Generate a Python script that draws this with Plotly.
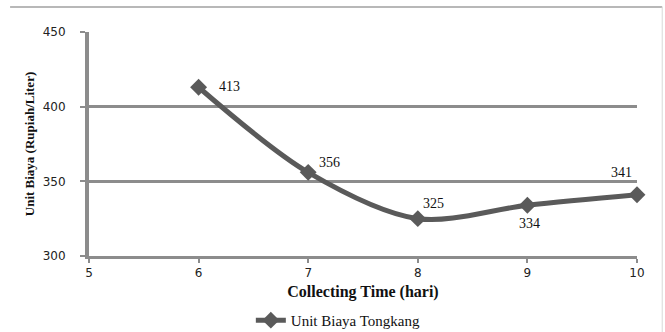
import plotly.graph_objects as go

# Collecting time (days) vs. unit cost per litre for the barge
collecting_time = [6, 7, 8, 9, 10]
unit_cost = [413, 356, 325, 334, 341]
x_ticks = [5, 6, 7, 8, 9, 10]
y_ticks = [300, 350, 400, 450]

# pixel offsets of each value label from its point
label_dx = [31, 21, 16, 2, -16]
label_dy = [1, 10, 15, -18, 22]

line_color = "#5a5a5a"
axis_color = "#8c8c8c"
serif = "Liberation Serif, Times New Roman, serif"
sans = "DejaVu Sans, Arial, sans-serif"

fig = go.Figure()
fig.add_trace(go.Scatter(
    x=collecting_time,
    y=unit_cost,
    mode="lines+markers",
    name="Unit Biaya Tongkang",
    line=dict(color=line_color, width=5, shape="spline", smoothing=0.9),
    marker=dict(symbol="diamond", size=13, color=line_color),
    cliponaxis=False,
))

for x, y, dx, dy in zip(collecting_time, unit_cost, label_dx, label_dy):
    fig.add_annotation(
        x=x, y=y, text=str(y), showarrow=False,
        xshift=dx, yshift=dy,
        font=dict(family=serif, size=14, color="#111111"),
    )

fig.update_layout(
    width=665,
    height=332,
    margin=dict(l=89, r=28, t=32, b=76),
    paper_bgcolor="white",
    plot_bgcolor="white",
    showlegend=True,
    legend=dict(
        orientation="h",
        xref="paper", x=0.455, xanchor="center",
        yref="container", y=0.035, yanchor="middle",
        font=dict(family=serif, size=15, color="#111111"),
        itemwidth=30,
        bgcolor="rgba(0,0,0,0)",
    ),
    xaxis=dict(
        range=[5, 10],
        tickvals=x_ticks,
        ticktext=[str(t) for t in x_ticks],
        showgrid=False,
        zeroline=False,
        showline=True,
        linecolor=axis_color,
        linewidth=3,
        ticks="outside",
        ticklen=4,
        tickwidth=2,
        tickcolor=axis_color,
        tickfont=dict(family=sans, size=12, color="#222222"),
        automargin=False,
        title=dict(text="<b>Collecting Time (hari)</b>",
                   font=dict(family=serif, size=16, color="#111111"),
                   standoff=7),
    ),
    yaxis=dict(
        range=[300, 450],
        tickvals=y_ticks,
        showgrid=True,
        gridcolor=axis_color,
        gridwidth=3,
        zeroline=False,
        showline=True,
        linecolor=axis_color,
        linewidth=4,
        ticks="outside",
        ticklen=5,
        tickwidth=2,
        tickcolor=axis_color,
        ticklabelstandoff=12,
        tickfont=dict(family=sans, size=12, color="#222222"),
        automargin=False,
        title=dict(text="<b>Unit Biaya (Rupiah/Liter)</b>",
                   font=dict(family=serif, size=13, color="#111111"),
                   standoff=6),
    ),
)

# Thin frame around the chart area (top and right edges)
fig.add_shape(type="line", xref="paper", yref="paper",
              x0=-0.144, x1=1.046, y0=1.112, y1=1.112,
              line=dict(color="#a0a0a0", width=1.5))
fig.add_shape(type="line", xref="paper", yref="paper",
              x0=1.046, x1=1.046, y0=1.112, y1=-0.34,
              line=dict(color="#d8d8d8", width=1))

fig.write_html("out.html")
